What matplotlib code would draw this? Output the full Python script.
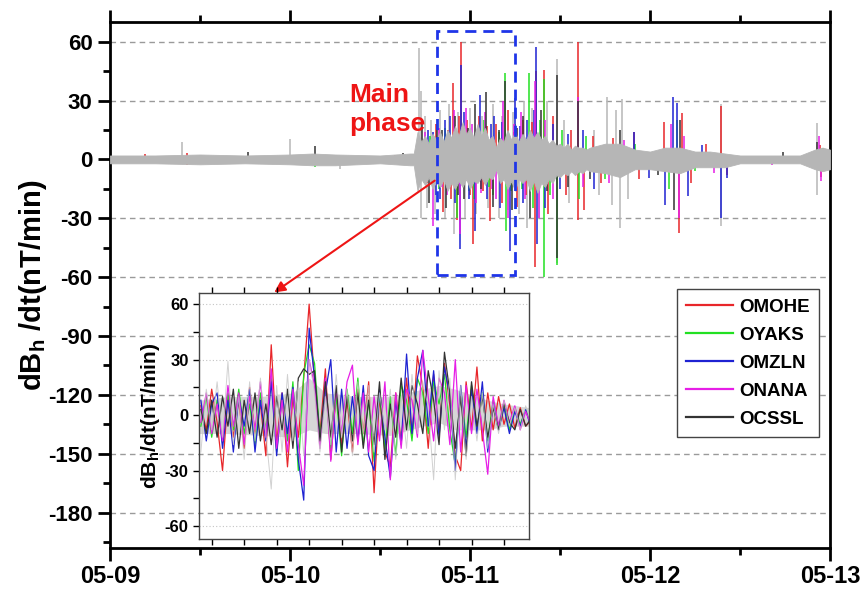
import numpy as np
import matplotlib.pyplot as plt
from matplotlib.patches import Rectangle
from matplotlib.ticker import MultipleLocator

plt.rcParams['font.family'] = ['Liberation Sans', 'DejaVu Sans']
plt.rcParams['font.weight'] = 'bold'
plt.rcParams['axes.unicode_minus'] = False
plt.rcParams['mathtext.fontset'] = 'custom'
plt.rcParams['mathtext.rm'] = 'Liberation Sans:bold'
plt.rcParams['mathtext.bf'] = 'Liberation Sans:bold'

# ---- data (hours since 05-09 00:00 UT) ----
day_hours = [0, 24, 48, 72, 96]
day_labels = ['05-09', '05-10', '05-11', '05-12', '05-13']

stations = ['OMOHE', 'OYAKS', 'OMZLN', 'ONANA', 'OCSSL']
colors = ['#e8262a', '#22e022', '#1e22d2', '#e61ee6', '#333333']
gray = '#b6b6b6'

# dense background band (envelope of the light gray trace)
band_hours = [0, 6, 12, 18, 24, 27, 30, 36, 40,
              40.5, 41, 41.5, 42, 42.5, 43, 43.5, 44, 44.5, 45, 45.5, 46, 46.5, 47, 47.5,
              48, 48.5, 49, 49.5, 50, 50.5, 51, 51.5, 52, 52.5, 53, 53.5, 54, 54.5, 55, 55.5,
              56, 56.5, 57, 57.5, 58, 58.5, 59, 59.5, 60, 60.5, 61, 61.5, 62, 62.5, 63, 63.5, 64,
              66, 68, 70, 72, 74, 76, 78, 80, 82, 84, 88, 92, 94, 95, 96]
band_upper = [2, 2, 2.5, 2, 2.5, 3, 2.5, 2, 3,
              3, 14, 9, 12, 8, 13, 10, 14, 9, 15, 11, 17, 12, 19, 13,
              16, 11, 18, 12, 16, 10, 12, 6, 11, 9, 15, 10, 14, 9, 13, 10,
              15, 11, 14, 10, 12, 8, 10, 7, 8, 6, 8, 5, 7, 6, 6, 5, 6,
              8, 8, 5, 4, 6, 6, 4, 4, 3, 2, 2, 2, 5, 6, 5]
band_lower = [-2, -2, -2.5, -2, -2.5, -3, -3, -2, -3,
              -3, -16, -10, -13, -9, -15, -11, -14, -10, -16, -12, -15, -11, -14, -10,
              -15, -11, -12, -9, -13, -9, -10, -5, -12, -10, -15, -11, -16, -10, -12, -10,
              -16, -11, -17, -12, -14, -10, -12, -8, -9, -7, -8, -6, -8, -6, -7, -5, -6,
              -7, -9, -5, -5, -6, -7, -4, -4, -4, -2, -2, -2, -5, -6, -5]

gray_spikes = [(9.6, 9), (24.0, 10.5), (30.7, -5), (41.2, 57), (41.5, 35), (41.4, -30),
               (42.0, 22), (42.3, -25), (42.8, 20), (43.3, -28), (44.0, 25), (44.6, -30),
               (45.2, 28), (45.9, -38), (46.4, 24), (47.3, -30), (48.0, 26), (48.8, -28),
               (49.6, 22), (50.4, -25), (51.0, 28), (51.8, -30), (52.3, 22), (53.0, -26),
               (53.7, 24), (54.5, -28), (55.2, 30), (55.6, -35), (56.2, 26), (57.2, -30),
               (58.3, 30), (59.6, 51), (59.6, -53), (60.5, 20), (61.2, -22), (64.5, 15),
               (65.2, -18), (66.3, 32), (66.9, -23), (67.5, 25), (68.0, -35), (68.2, 31),
               (69.0, -20), (81.4, 28), (81.4, -34), (94.2, 18.5), (94.2, -18)]

omohe_spikes = [(4.7, 2.5), (10.3, 3.5), (10.3, -3), (38.0, 2), (42.2, -12), (43.4, 18),
                (44.4, -27), (45.0, 15), (45.4, -20), (45.7, 38.8), (46.2, -31), (46.5, 22),
                (46.8, 60), (47.6, 20), (48.0, -18), (48.4, -43), (49.2, 22), (49.7, -16),
                (50.3, 17), (50.7, -31.5), (51.5, 18), (52.2, -22), (53.0, 25), (53.9, 14),
                (54.3, -24), (55.0, 20), (55.4, -18), (56.2, 19), (56.7, -55), (56.8, 45),
                (57.8, 45.6), (58.4, -28), (59.0, 22), (60.8, -18), (61.5, 15), (62.4, 60),
                (62.4, -30.7), (63.2, -25.6), (64.4, 12), (65.5, -12), (67.1, 11), (69.8, 14),
                (70.5, -10), (73.8, 19.3), (75.8, -37.5), (76.2, 23.5), (77.5, -12), (79.5, 8),
                (81.4, 27), (82.3, -8), (94.6, 7.5), (94.8, -9)]
oyaks_spikes = [(27.3, -4), (42.6, 12), (43.8, -15), (44.6, 16), (45.2, 14), (46.2, -29.8),
                (47.0, 18), (47.8, -16), (48.5, -20), (49.0, 15), (49.8, 20), (50.5, -14),
                (51.0, -18), (51.8, 14), (52.6, 43.9), (52.8, -36.6), (53.5, -16), (54.0, 18),
                (54.9, -15), (55.8, 43.9), (56.4, -25), (57.3, 20), (57.8, -60), (57.9, 41),
                (58.7, -18), (59.6, -54), (60.2, 15), (62.5, -20), (63.5, 12), (66.0, -10),
                (70.0, 8), (74.5, -15), (75.6, 20), (78.0, -6), (95.0, 6)]
omzln_spikes = [(30.7, -2), (42.4, 15), (43.0, 14), (43.5, -18), (44.0, -20), (44.7, 20),
                (45.3, 22), (46.0, -22), (46.7, -45.7), (46.8, 48), (47.2, 24), (47.9, -20),
                (48.7, -36.6), (49.3, 32.9), (50.3, -20), (50.8, 18), (51.2, 22), (52.0, -25),
                (52.3, 19), (53.3, -46.8), (54.0, 31.2), (54.6, 17), (55.0, -22), (55.6, 20),
                (56.5, 25), (56.8, 57.5), (56.9, -43), (58.0, -25), (59.0, 18), (60.0, -15),
                (61.0, 13), (63.0, 15), (64.5, -15), (69.8, 14), (71.8, -9.5), (74.0, -23),
                (75.0, 32), (75.6, 28.6), (77.1, -18.8), (78.9, 7.5), (81.4, -30), (82.2, -9.5),
                (90.0, -2)]
onana_spikes = [(20.0, -1), (27.3, 3), (42.0, 14), (43.0, -34), (43.8, 16), (44.2, -14),
                (44.9, -18), (45.8, 25), (46.6, -38), (47.4, 26), (48.2, 18), (48.8, -22),
                (49.4, -17), (50.0, 24), (50.9, -15), (51.5, -20), (52.4, 30), (53.0, -30),
                (53.8, 18), (54.8, 24), (55.3, -20), (56.6, 40), (57.2, -30), (58.0, 20),
                (59.0, -20), (62.4, 32), (63.0, -14), (66.5, -12), (68.5, 10), (74.8, 18),
                (75.9, -30), (76.5, 12), (80.5, -7), (88.2, -3), (94.5, 12), (94.8, -11)]
ocssl_spikes = [(18.4, 4), (27.3, 7), (39.1, 3.5), (41.6, 20), (42.5, -22), (43.6, 18),
                (44.3, 15), (44.8, -25), (46.0, 22), (46.4, -18), (47.2, -20), (47.7, 16),
                (48.6, 28), (49.5, -15), (50.1, 34.6), (51.0, -24), (51.9, 15), (52.6, 40),
                (53.6, -26), (54.3, 16), (55.0, 22), (56.0, -30), (57.5, 25), (58.2, -16),
                (59.6, 43), (59.6, -50), (61.0, -14), (62.4, 30), (64.0, -10), (68.0, 15),
                (73.0, -8), (75.2, -26), (76.0, 20), (89.7, 4), (94.2, 9)]
station_spikes = [omohe_spikes, oyaks_spikes, omzln_spikes, onana_spikes, ocssl_spikes]

# zoomed main phase: 10-min samples from 05-10 19:40
inset_start = 43 + 40 / 60
omohe_zoom = [5, -8, 14, -4, -30, 10, -12, 8, -18, 15, -10, 6, -22, 38, -15, 12, -28, 10, -12, 20,
              60, 18, -10, 25, -24, 12, -16, 8, -20, 14, -10, 18, -42, 10, -20, -28, 12, -15, 20, -12,
              32, 15, -18, 22, -10, 28, 5, -22, -30, 18, -8, 26, -14, 12, -8, 10, -5, 6, -7, 4, -6, -3]
oyaks_zoom = [-6, 10, -12, 8, -15, 12, -8, 14, -10, 6, -16, 12, -8, 20, -20, 10, -14, 18, -30, 22,
              38, 28, -12, 16, -18, 10, -22, 14, -10, 20, -16, 8, -25, 12, -18, 10, -22, 16, 8, -14,
              20, 12, -10, 18, 6, 22, -8, -27, 14, -12, 16, -8, 12, -14, 8, -6, 5, -8, 4, -5, 3, -4]
omzln_zoom = [8, -14, 6, 12, -18, 8, -20, 10, -6, 14, -20, 8, -14, 18, -22, 12, -10, 15, -24, -46,
              47, 20, -15, 12, 30, -20, 14, -18, 10, -14, 16, -22, -30, 14, -12, -34, 8, -16, 33, -10,
              20, 35, -6, 24, -12, 26, 10, -30, 16, -18, 14, -10, 18, -20, 6, -8, 4, -10, 2, -6, 3, -7]
onana_zoom = [-4, 12, -10, 6, -14, 16, -6, 12, -16, 10, -8, 18, -12, 25, -18, 8, -20, 14, -16, -38,
              30, 16, -18, 20, -25, 14, -10, 18, 27, -16, 12, -20, 10, -14, 18, -35, 12, -18, 14, 8,
              -12, 35, 10, -14, 20, 12, -16, 30, -20, 16, -10, 14, -8, -32, 10, -6, 8, -4, 5, -8, 2, -5]
ocssl_zoom = [3, -10, 8, -12, 10, -6, 14, -18, 8, -10, 12, -14, 6, -16, 10, -8, 14, -18, 20, 25,
              22, 24, -14, 18, -12, 16, -20, 10, -14, 12, -18, 8, -16, 18, -24, 6, -12, 20, -8, 16,
              6, -10, 24, 8, -16, 34, 12, -18, 10, -22, 18, -6, 10, -12, 4, -8, 6, -4, -8, 3, -6, -2]
gray_zoom = [-20, 14, -8, 18, -12, 29, -16, 10, -24, 18, -14, 20, -10, -40, 16, -20, 22, -14, 18, -22,
             30, 12, -20, 10, -16, 22, -12, 14, -22, 18, -10, 16, -20, 12, -8, 14, -24, 10, -18, 22,
             -10, 18, 4, -35, 24, -8, 20, -35, 16, -24, 10, -14, 12, -18, 6, -10, 8, -6, 4, -8, 5, -4]
station_zoom = [omohe_zoom, oyaks_zoom, omzln_zoom, onana_zoom, ocssl_zoom]

# light core of the zoomed traces
zoom_band_hours = [43.6, 44.5, 45.5, 46.5, 47, 47.5, 48.5, 49.5, 50.5, 51, 51.5, 52.5, 53, 53.8]
zoom_band_upper = [8, 10, 10, 12, 20, 12, 10, 10, 14, 16, 14, 8, 6, 4]
zoom_band_lower = [-10, -10, -11, -12, -8, -10, -10, -11, -6, -4, -8, -8, -6, -6]

# ---- figure ----
fig = plt.figure(figsize=(8.62, 5.97), dpi=100)
ax = fig.add_axes([0.1276, 0.0821, 0.8353, 0.881])

for spikes, c in zip(station_spikes, colors):
    t = [s[0] for s in spikes]
    v = [s[1] for s in spikes]
    ax.vlines(t, 0, v, color=c, lw=1.1, zorder=2)
ax.vlines([s[0] for s in gray_spikes], 0, [s[1] for s in gray_spikes],
          color=gray, lw=1.1, zorder=1.8)
ax.fill_between(band_hours, band_lower, band_upper, color=gray, lw=0.6,
                edgecolor=gray, zorder=3)

for yv in range(-180, 61, 30):
    ax.axhline(yv, color='#9a9a9a', lw=1, ls=(0, (4, 3)), zorder=0)

ax.set_xlim(0, 96)
ax.set_ylim(-198, 70)
ax.set_xticks(day_hours)
ax.set_xticklabels(day_labels)
ax.xaxis.set_minor_locator(MultipleLocator(12))
ax.yaxis.set_major_locator(MultipleLocator(30))
ax.yaxis.set_minor_locator(MultipleLocator(15))
ax.tick_params(axis='both', which='major', direction='out', length=9, width=2,
               top=True, right=False)
ax.tick_params(axis='both', which='minor', direction='out', length=5, width=2,
               top=True, right=False)
ax.tick_params(axis='x', labelsize=17)
ax.tick_params(axis='y', labelsize=16)
for sp in ax.spines.values():
    sp.set_linewidth(2)
ax.set_ylabel(r'dB$_\mathbf{h}$ /dt(nT/min)', fontsize=21, fontweight='bold')
ax.yaxis.set_label_coords(-0.085, 0.5)

ax.add_patch(Rectangle((43.6, -59), 10.4, 124.5, fill=False, edgecolor='#1f35e8',
                       lw=2, ls=(0, (4, 2.5)), zorder=5))
ax.text(31.9, 25.5, 'Main\nphase', color='#ee1515', fontsize=19, fontweight='bold',
        ha='left', va='center', linespacing=1.3, zorder=6)
ax.annotate('', xy=(21.6, -68.6), xytext=(43.6, -10),
            arrowprops=dict(arrowstyle='-|>', color='#ee1515', lw=1.5,
                            mutation_scale=16), zorder=6)

# ---- inset ----
axi = fig.add_axes([0.2309, 0.0972, 0.3828, 0.412])
axi.patch.set_alpha(0)
t_zoom = inset_start + np.arange(len(gray_zoom)) / 6
axi.fill_between(zoom_band_hours, zoom_band_lower, zoom_band_upper, color='#d6d6d6',
                 lw=0, zorder=1.5)
lines = []
for vals, c, name in zip(station_zoom, colors, stations):
    ln, = axi.plot(t_zoom, vals, color=c, lw=0.9, label=name, zorder=2)
    lines.append(ln)
axi.plot(t_zoom, gray_zoom, color='#c6c6c6', lw=0.7, alpha=0.8, zorder=3)
for yv in range(-60, 61, 30):
    axi.axhline(yv, color='#c4c4c4', lw=0.8, ls=(0, (1, 2)), zorder=0)
axi.set_xlim(43.61, 53.77)
axi.set_ylim(-67, 66)
axi.set_xticks(range(44, 54))
axi.set_xticklabels([])
axi.yaxis.set_major_locator(MultipleLocator(30))
axi.yaxis.set_minor_locator(MultipleLocator(15))
axi.tick_params(axis='both', which='both', direction='out', length=4, width=1,
                labelsize=12, top=True, right=False)
for sp in axi.spines.values():
    sp.set_linewidth(1)
    sp.set_color('#444444')
axi.set_ylabel(r'dB$_\mathbf{h}$/dt(nT/min)', fontsize=15, fontweight='bold', labelpad=2)

leg = ax.legend(handles=lines, loc='upper left', bbox_to_anchor=(0.7875, 0.4924),
                frameon=True, fancybox=False, framealpha=1, borderaxespad=0,
                edgecolor='#444444', handlelength=2.5, handletextpad=0.3,
                labelspacing=0.58, borderpad=0.5, prop={'weight': 'bold', 'size': 13.5})
leg.get_frame().set_linewidth(1)
for h in leg.legend_handles:
    h.set_linewidth(1.6)

fig.savefig('out.png', dpi=100)
